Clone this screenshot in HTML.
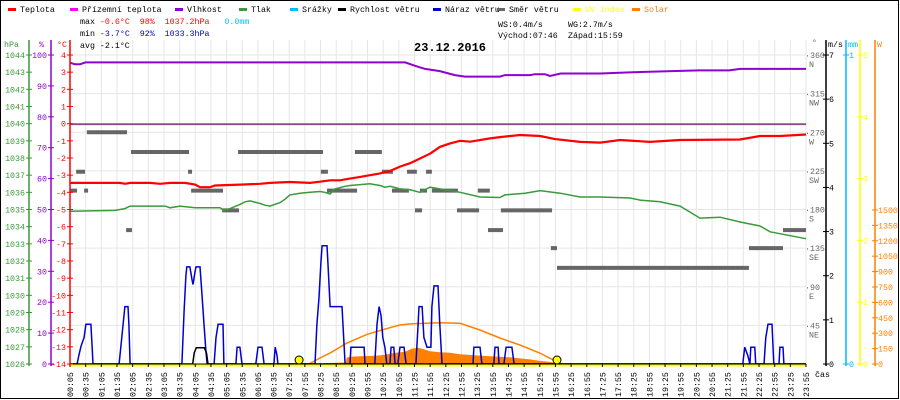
<!DOCTYPE html>
<html><head><meta charset="utf-8"><style>
html,body{margin:0;padding:0;background:#fff}
svg{display:block}
text{font-family:"Liberation Mono",monospace;font-size:8.3px}
</style></head><body>
<svg id="chart" width="900" height="400" viewBox="0 0 900 400">
<rect x="0.5" y="0.5" width="898" height="398" fill="#fff" stroke="#000"/>
<g id="grid"></g>
<g id="series"></g>
<g id="axes"></g>
<g id="legend"></g>
<g>
<text x="80" y="24" xml:space="preserve">max <tspan fill="#f00">-0.6°C  98%  1037.2hPa</tspan>   <tspan fill="#0bf">0.0mm</tspan></text>
<text x="80" y="36" xml:space="preserve">min <tspan fill="#00c">-3.7°C  92%  1033.3hPa</tspan></text>
<text x="80" y="48">avg -2.1°C</text>
<text x="498" y="27">WS:0.4m/s</text>
<text x="568" y="27">WG:2.7m/s</text>
<text x="498" y="38">Východ:07:46</text>
<text x="568" y="38">Západ:15:59</text>
<text x="414" y="51" style="font-size:12px;font-weight:bold">23.12.2016</text>
</g>
</svg>
<script>
// ---- data (time in hours) ----
const xLabels=["00:05","00:35","01:05","01:35","02:05","02:35","03:05","03:35","04:05","04:35","05:05","05:35","06:05","06:35","07:25","07:55","08:25","08:55","09:25","09:55","10:25","10:55","11:25","11:55","12:25","12:55","13:25","13:55","14:25","14:55","15:25","15:55","16:25","16:55","17:25","17:55","18:25","18:55","19:25","19:55","20:25","20:55","21:25","21:55","22:25","22:55","23:25","23:55"];
const tempT=[0,1.63,1.8,1.96,2.61,2.94,3.26,3.75,4.08,4.24,4.57,4.73,5.55,6.2,6.52,7.17,7.83,8.15,8.48,8.8,9.13,9.46,9.78,10.11,10.44,10.76,11.09,11.74,12.07,12.39,12.72,13.05,13.7,14.02,14.68,15.33,15.82,16.63,17.29,17.94,18.91,19.89,21.85,22.5,23.15,24];
const tempV=[-3.45,-3.45,-3.5,-3.45,-3.45,-3.5,-3.45,-3.45,-3.55,-3.7,-3.7,-3.6,-3.55,-3.5,-3.45,-3.4,-3.45,-3.38,-3.3,-3.3,-3.2,-3.1,-3.0,-2.9,-2.75,-2.5,-2.3,-1.75,-1.35,-1.15,-1.0,-1.05,-0.86,-0.78,-0.66,-0.72,-0.9,-1.06,-1.1,-0.95,-1.06,-0.95,-0.92,-0.72,-0.72,-0.63];
const feelT=[0,24];
const feelV=[0,0];
const humT=[0,0.16,0.33,0.5,10.93,11.25,11.58,12.06,12.55,12.88,14.02,14.18,15.0,15.16,15.49,15.65,16.0,17.3,18.6,20.5,21.5,21.85,24];
const humV=[97.5,97,97,97.6,97.6,96.5,95.5,94.8,93.5,93,93,93.5,93.5,93.8,93.8,93.2,94,94,94.5,95,95,95.5,95.5];
const presT=[0,1.47,1.79,1.96,2.61,3.1,3.26,3.59,4.08,4.24,4.57,4.89,5.02,5.22,5.54,5.71,5.87,6.2,6.36,6.52,6.85,7.01,7.17,7.5,7.83,8.15,8.31,8.48,8.64,8.97,9.13,9.46,9.78,10.11,10.27,10.44,10.76,11.09,11.41,11.74,12.06,12.72,13.37,14.02,14.18,14.84,15.33,15.98,16.63,17.29,18.26,18.59,19.24,19.89,20.22,20.54,21.2,21.85,22.5,22.83,24];
const presV=[1034.9,1034.95,1035.05,1035.2,1035.2,1035.2,1035.1,1035.2,1035.1,1035.1,1035.1,1035.1,1034.95,1035.05,1035.3,1035.45,1035.5,1035.35,1035.25,1035.2,1035.4,1035.6,1035.85,1035.95,1036.0,1036.05,1036.0,1035.9,1036.2,1036.35,1036.4,1036.45,1036.5,1036.4,1036.3,1036.35,1036.2,1036.15,1036.0,1036.3,1036.2,1036.0,1035.73,1035.7,1035.85,1035.95,1036.1,1035.95,1035.73,1035.73,1035.67,1035.55,1035.45,1035.2,1034.85,1034.5,1034.55,1034.27,1034.04,1033.7,1033.3];
const gustT=[0,0.23,0.29,0.36,0.46,0.52,0.68,0.72,0.75,1.6,1.66,1.73,1.79,1.89,1.92,1.96,3.65,3.72,3.78,3.81,3.91,3.98,4.01,4.08,4.11,4.24,4.3,4.37,4.43,4.47,4.7,4.76,4.83,4.99,5.02,5.41,5.45,5.54,5.61,6.06,6.13,6.26,6.33,6.65,6.69,6.75,6.78,7.99,8.05,8.12,8.18,8.22,8.38,8.41,8.48,8.87,8.97,9.13,9.16,9.59,9.62,9.94,10.01,10.08,10.14,10.2,10.27,10.33,10.43,10.47,10.56,10.6,10.69,10.76,10.89,10.96,11.28,11.35,11.38,11.48,11.54,11.64,11.77,11.8,11.87,12.0,12.06,12.1,12.13,13.14,13.17,13.37,13.43,13.82,13.86,13.96,13.99,14.15,14.22,14.41,14.48,21.94,22.0,22.1,22.17,22.2,22.33,22.36,22.63,22.69,22.76,22.89,22.95,23.12,23.15,23.25,23.28,24];
const gustV=[0,0,0.2,0.4,0.6,0.9,0.9,0.4,0,0,0.4,0.9,1.3,1.3,0.9,0,0,1.2,2.0,2.2,2.2,1.9,1.8,2.1,2.2,2.2,1.6,0.9,0.3,0,0,0.6,0.9,0.9,0,0,0.38,0.38,0,0,0.38,0.38,0,0,0.38,0.2,0,0,0.9,1.5,2.3,2.68,2.68,2.3,1.3,1.3,0,0,0.38,0.38,0,0,0.9,1.3,1.1,0.6,0.38,0,0,0.38,0.38,0,0,0.38,0.38,0,0,0.9,1.3,1.3,0.6,0.38,0.38,1.3,1.77,1.77,0.9,0.38,0,0,0.38,0.38,0,0,0.38,0.38,0,0,0.38,0.38,0,0,0.38,0.2,0,0.38,0.38,0,0,0.6,0.9,0.9,0,0,0.38,0.38,0,0];
const speedT=[0,4.0,4.05,4.12,4.38,4.45,4.5,24];
const speedV=[0,0,0.25,0.37,0.37,0.25,0,0];
const dirStart=[0.55,1.99,5.48,9.29,0.2,3.85,8.18,10.17,10.99,11.61,0,0.46,3.95,8.38,10.5,11.41,11.8,13.3,4.96,11.25,12.62,14.05,1.83,13.63,23.25,15.68,22.14,15.88];
const dirEnd=[1.86,3.88,8.25,10.17,0.49,3.98,8.41,10.53,11.31,11.8,0.23,0.59,4.99,9.36,11.05,11.64,12.65,13.69,5.51,11.48,13.34,15.72,2.02,14.12,24,15.88,23.25,22.14];
const dirV=[270,247,247,247,224,224,224,224,224,224,202,202,202,202,202,202,202,202,179,179,179,179,156,156,156,135,135,112];
const solarT=[7.6,8.4,9.0,9.02,9.13,9.46,9.94,10.27,10.6,10.93,11.15,11.35,11.58,11.74,12.06,12.39,12.72,13.2,13.7,14.02,14.35,14.67,15.0,15.32,15.65,15.88,15.98];
const solarV=[0,10,15,60,70,75,80,90,110,120,150,159,140,125,115,110,95,85,75,70,65,55,45,30,20,5,0];
const theoT=[7.47,7.79,8.15,8.5,9.03,9.7,10.43,10.76,11.09,12.06,12.72,13.37,14.02,14.67,15.32,15.88,16.04];
const theoV=[0,0,58,110,204,290,353,380,390,402,396,331,253,185,107,20,0];
const sunEventsT=[7.47,15.88];
const humTicks=[0,10,20,30,40,50,60,70,80,90,100];
const dirTicks=[45,90,135,180,225,270,315,360];
const dirNames=["NE","E","SE","S","SW","W","NW","N"];

// ---- scales ----
const X0=70,X1=806,YB=364,YT=55;
const xs=h=>X0+h/24*(X1-X0);
const yT=t=>YB-(t+14)/18*(YB-YT);
const yH=h=>YB-h/100*(YB-YT);
const yP=p=>YB-(p-1026)/18*(YB-YT);
const yW=w=>YB-w/7*(YB-YT);
const yD=d=>YB-d/360*(YB-YT);
const yS=s=>YB-s*0.1027;
const yUV=u=>YB-u/5*(YB-YT);
const NS="http://www.w3.org/2000/svg";
function mk(tag,attrs,parent,txt){const e=document.createElementNS(NS,tag);for(const k in attrs)e.setAttribute(k,attrs[k]);if(txt!==undefined)e.textContent=txt;parent.appendChild(e);return e;}
const grid=document.getElementById('grid'),series=document.getElementById('series'),axes=document.getElementById('axes'),legend=document.getElementById('legend');

// grid
xLabels.forEach((l,i)=>{const x=X0+i*(X1-X0)/(xLabels.length-1);
 const g=mk('line',{x1:x,x2:x,y1:40,y2:YB,stroke:'#e6e6e6'},grid);
 
 
 mk('line',{x1:x,x2:x,y1:YB,y2:YB+3,stroke:'#000'},axes);
 const t=mk('text',{x:0,y:0,transform:`translate(${x+3},397) rotate(-90)`,style:'font-size:8.3px'},axes,l);
 
 
});
dirTicks.forEach((d,i)=>{const y=yD(d);
 const g=mk('line',{x1:X0,x2:X1,y1:y,y2:y,stroke:'#e6e6e6'},grid);
 
 
 mk('text',{x:805,y:y+3,fill:'#666'},axes,'·'+d);
 const n=mk('text',{x:809,y:y+12,fill:'#666'},axes,dirNames[i]);
 
 
});
mk('text',{x:812,y:45,fill:'#666'},axes,'°');
mk('line',{x1:X0,x2:X1,y1:yT(0)+1,y2:yT(0)+1,stroke:'#555'},grid);

function path(ts,vs,yf,attrs,name){let d='';ts.forEach((t,i)=>{d+=(i?'L':'M')+xs(t).toFixed(1)+','+yf(vs[i]).toFixed(1);});
 const p=mk('path',Object.assign({d,fill:'none'},attrs),series);
 
 return p;}

// solar area
{let d='M'+xs(solarT[0])+','+YB;solarT.forEach((t,i)=>{d+='L'+xs(t).toFixed(1)+','+yS(solarV[i]).toFixed(1);});d+='L'+xs(solarT[solarT.length-1])+','+YB+'Z';
 const a=mk('path',{d,fill:'#ff8000'},series);
 
 }
path(theoT,theoV,yS,{stroke:'#ff8000','stroke-width':1.5},'solar-theoretical-line');
// wind direction dashes
dirV.forEach((d,i)=>{const r=mk('rect',{x:xs(dirStart[i]),y:yD(d)-2,width:Math.max(2,xs(dirEnd[i])-xs(dirStart[i])),height:4,fill:'#666'},series);
 
 });
path(feelT,feelV,yT,{stroke:'#f0f','stroke-width':1},'apparent-temperature-line');
path(humT,humV,yH,{stroke:'#9000d0','stroke-width':2},'humidity-line');
path(presT,presV,yP,{stroke:'#3a9a3a','stroke-width':1.5},'pressure-line');
path(tempT,tempV,yT,{stroke:'#f00','stroke-width':2.2},'temperature-line');
path(gustT,gustV,yW,{stroke:'#0000d0','stroke-width':1.5},'wind-gust-line');
path(speedT,speedV,yW,{stroke:'#000','stroke-width':1.5},'wind-speed-line');
mk('line',{x1:X0,x2:X1,y1:YB,y2:YB,stroke:'#000','stroke-width':1},series);
mk('line',{x1:X0,x2:X1,y1:YB+1.5,y2:YB+1.5,stroke:'#ff0','stroke-width':2},series);
sunEventsT.forEach(t=>{const c=mk('circle',{cx:xs(t),cy:YB-4,r:4,fill:'#ff0',stroke:'#000','stroke-width':1},series);
 
 });

// axes
function axis(x,col,vals,yf,lx,anchor,name){const l=mk('line',{x1:x,x2:x,y1:40,y2:YB+2,stroke:col,'stroke-width':1.5},axes);
 
 
 vals.forEach(v=>{const y=yf(v);mk('line',{x1:x-3,x2:x+3,y1:y,y2:y,stroke:col},axes);mk('text',{x:lx,y:y+3,fill:col,'text-anchor':anchor},axes,String(v));});}
const presTicks=[];for(let p=1026;p<=1044;p++)presTicks.push(p);
const tTicks=[];for(let t=-14;t<=4;t++)tTicks.push(t);
axis(29,'#3a9a3a',presTicks,yP,25,'end','pressure-axis');
axis(51,'#9000d0',humTicks,yH,47,'end','humidity-axis');
axis(70,'#f00',tTicks,yT,66,'end','temperature-axis');
mk('text',{x:4,y:47,fill:'#3a9a3a'},axes,'hPa');
mk('text',{x:39,y:47,fill:'#9000d0'},axes,'%');
mk('text',{x:57,y:47,fill:'#f00'},axes,'°C');
axis(826,'#000',[0,1,2,3,4,5,6,7],yW,829,'start','wind-speed-axis');
axis(846,'#0bf',[0,1],v=>YB-v*(YB-YT),849,'start','rain-axis');
axis(860,'#ff0',[0,1,2,3,4,5],yUV,863,'start','uv-axis');
axis(875,'#ff8000',[0,150,300,450,600,750,900,1050,1200,1350,1500],yS,878,'start','solar-axis');
mk('text',{x:828,y:47},axes,'m/s');
mk('text',{x:848,y:47,fill:'#0bf'},axes,'mm');
mk('text',{x:877,y:47,fill:'#ff8000'},axes,'W');
mk('text',{x:815,y:377},axes,'čas');

// legend
const legNames=["Teplota","Přízemní teplota","Vlhkost","Tlak","Srážky","Rychlost větru","Náraz větru","Směr větru","UV index","Solar"];
const legColors=["#f00","#f0f","#9000d0","#3a9a3a","#0bf","#000","#0000d0","#666","#ff0","#ff8000"];
const legX=[8,70,175,239,290,338,433,497,573,632];
legNames.forEach((n,i)=>{const g=mk('g',{},legend);
 
 
 mk('rect',{x:legX[i],y:8,width:8,height:3,fill:legColors[i]},g);
 mk('text',{x:legX[i]+12,y:12,fill:(i>=8?legColors[i]:'#000')},g,n);});
</script>
</body></html>
